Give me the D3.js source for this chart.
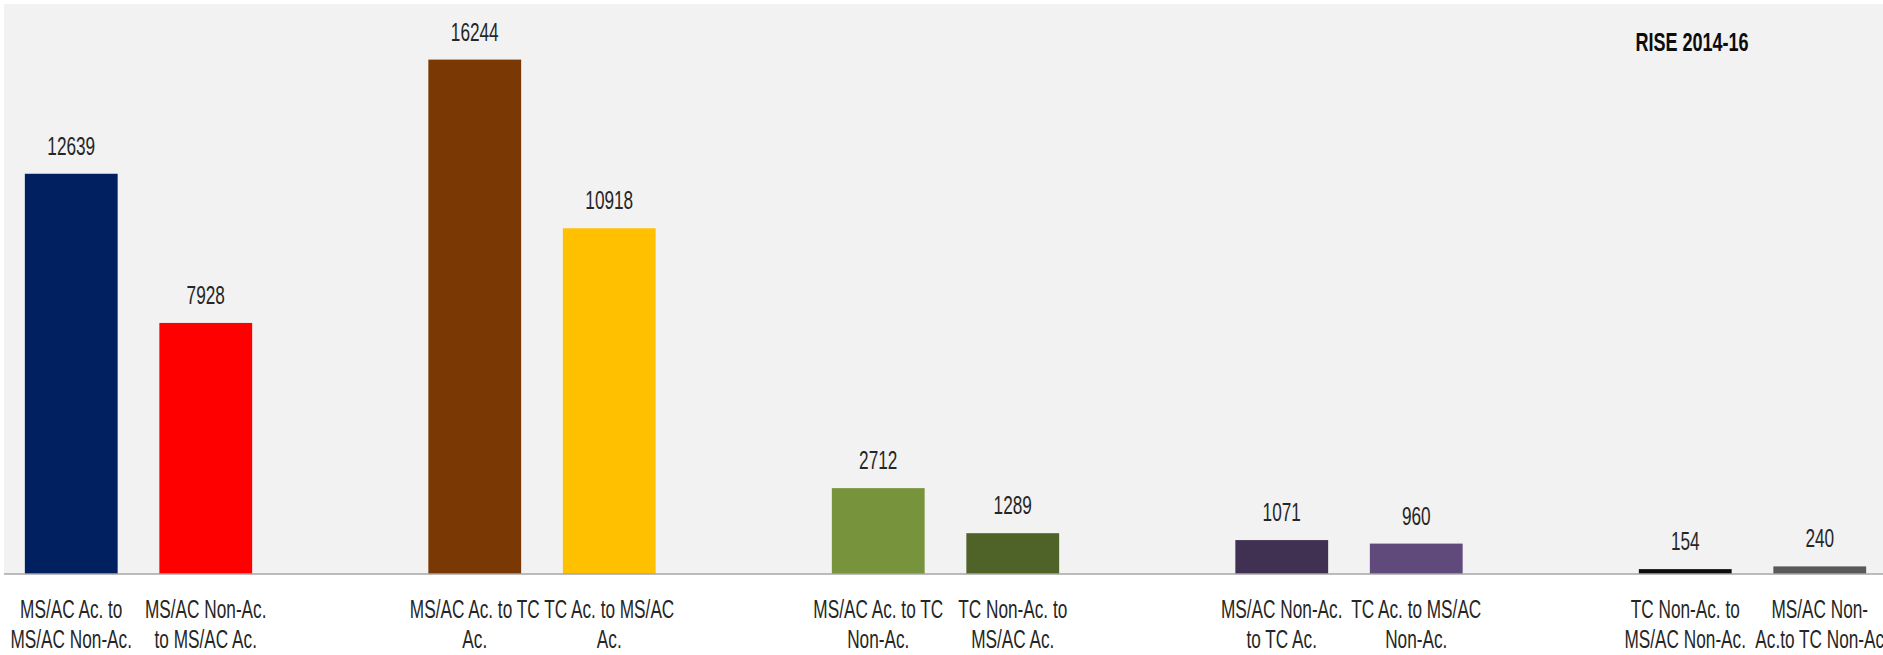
<!DOCTYPE html>
<html>
<head>
<meta charset="utf-8">
<script src="https://cdn.jsdelivr.net/npm/d3@7"></script>
<style>
    body { margin: 0; background: #ffffff; }
    svg { display: block; }
    text { font-family: "Liberation Sans", Arial, sans-serif; fill: #262626; }
</style>
</head>
<body>
<div id="chart"></div>
<script>
// Data ----------------------------------------------------------------------
var categories = [
    ["MS/AC Ac. to", "MS/AC Non-Ac."],
    ["MS/AC Non-Ac.", "to MS/AC Ac."],
    ["MS/AC Ac. to TC", "Ac."],
    ["TC Ac. to MS/AC", "Ac."],
    ["MS/AC Ac. to TC", "Non-Ac."],
    ["TC Non-Ac. to", "MS/AC Ac."],
    ["MS/AC Non-Ac.", "to TC Ac."],
    ["TC Ac. to MS/AC", "Non-Ac."],
    ["TC Non-Ac. to", "MS/AC Non-Ac."],
    ["MS/AC Non-", "Ac.to TC Non-Ac"]
];
var values = [12639, 7928, 16244, 10918, 2712, 1289, 1071, 960, 154, 240];
var barColors = ["#002060", "#ff0000", "#7a3904", "#ffc000", "#77933c",
                 "#4f6228", "#403152", "#604a7b", "#0d0d0d", "#595959"];
var title = "RISE 2014-16";
var yMax = 18000;

// Dimensions ----------------------------------------------------------------
var width = 1883,
    height = 655;
var plot = { left: 4, top: 4, right: 1887, bottom: 574 };
// text in the source is drawn tall and narrow (a condensed face, stretched)
var textScale = "scale(0.82,1.2)";

// Each pair of bars is followed by an empty slot in the category axis
var slots = [];
categories.forEach(function(c, i) {
    slots.push("c" + i);
    if (i % 2 == 1 && i < categories.length - 1) slots.push("gap" + i);
});

var x = d3.scaleBand()
    .domain(slots)
    .range([plot.left, plot.right])
    .paddingInner(0.31)
    .paddingOuter(0.155);
var y = d3.scaleLinear()
    .domain([0, yMax])
    .range([plot.bottom, plot.top]);

var svg = d3.select("#chart").append("svg")
    .attr("width", width)
    .attr("height", height);

// Plot background
svg.append("rect")
    .attr("x", plot.left)
    .attr("y", plot.top)
    .attr("width", plot.right - plot.left)
    .attr("height", plot.bottom - plot.top)
    .attr("fill", "#f2f2f2");

// Bars
svg.selectAll(".bar")
    .data(values)
    .enter().append("rect")
    .attr("class", "bar")
    .attr("x", function(d, i) { return x("c" + i); })
    .attr("width", x.bandwidth())
    .attr("y", function(d) { return y(d); })
    .attr("height", function(d) { return y(0) - y(d); })
    .attr("fill", function(d, i) { return barColors[i]; });

// Value labels
svg.selectAll(".value")
    .data(values)
    .enter().append("text")
    .attr("class", "value")
    .attr("transform", function(d, i) {
        return "translate(" + (x("c" + i) + x.bandwidth() / 2) + "," + (y(d) - 19) + ") " + textScale;
    })
    .attr("text-anchor", "middle")
    .style("font-size", "21px")
    .text(function(d) { return d; });

// Category axis
var xAxis = svg.append("g")
    .attr("transform", "translate(0," + plot.bottom + ")")
    .call(d3.axisBottom(x).tickSize(0).tickFormat(""));
xAxis.select(".domain")
    .attr("d", "M" + plot.left + ",0H" + plot.right)
    .attr("stroke", "#a6a6a6")
    .attr("stroke-width", 1.5);

var labels = svg.selectAll(".cat")
    .data(categories)
    .enter().append("g")
    .attr("class", "cat")
    .attr("transform", function(d, i) {
        return "translate(" + (x("c" + i) + x.bandwidth() / 2) + ",0)";
    });
labels.selectAll("text")
    .data(function(d) { return d; })
    .enter().append("text")
    .attr("transform", function(d, j) {
        return "translate(0," + (618 + j * 30) + ") " + textScale;
    })
    .attr("text-anchor", "middle")
    .style("font-size", "21px")
    .text(function(d) { return d; });

// Title
svg.append("text")
    .attr("transform", "translate(1692,51) " + textScale)
    .attr("text-anchor", "middle")
    .style("font-size", "22px")
    .style("font-weight", "bold")
    .style("fill", "#0d0d0d")
    .text(title);
</script>
</body>
</html>
